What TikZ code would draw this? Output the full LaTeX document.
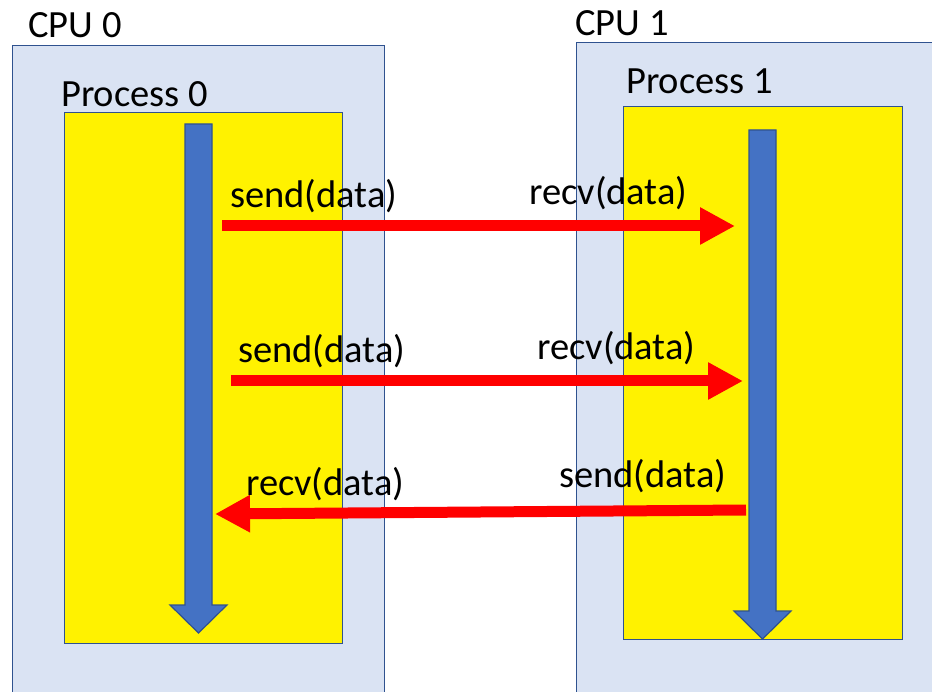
\documentclass[tikz,border=0pt]{standalone}
\usepackage{fontspec}
\setmainfont{Carlito}
\usepackage{xcolor}
\usepackage{tikz}
\usetikzlibrary{arrows.meta, positioning}

\definecolor{cpufill}{HTML}{DAE3F3}
\definecolor{edgeblue}{HTML}{2F528F}
\definecolor{lineblue}{HTML}{4472C4}

\begin{document}
\begin{tikzpicture}[x=1pt, y=-1pt,
        cpu_box/.style={rectangle, draw=edgeblue, fill=cpufill, line width=1.2pt,
        anchor=north west, inner sep=0pt},
        proc_box/.style={rectangle, draw=edgeblue, fill=yellow, line width=1.2pt,
        anchor=north west, inner sep=0pt},
        lbl/.style={anchor=base west, inner sep=0pt, font=\fontsize{38.5}{44}\selectfont},
        timeline/.style={draw=edgeblue, fill=lineblue, line width=1.2pt, line join=miter},
        msg/.style={-{Triangle[length=35pt, width=35pt]}, line width=11pt, red}
            ]

            \clip (0,0) rectangle (932,692);

            % CPUs
            \node[cpu_box, minimum width=372pt, minimum height=680pt] (cpu0) at (12,45) {};
            \node[cpu_box, minimum width=380pt, minimum height=680pt] (cpu1) at (576,42) {};

            % Processes
            \node[proc_box, minimum width=278pt, minimum height=531pt] (proc0) at (64,112) {};
            \node[proc_box, minimum width=279pt, minimum height=533pt] (proc1) at (623,106) {};

            % Time lines
            \draw[timeline] (185,124) -- (212,124) -- (212,605) -- (227,605)
                -- (198.5,633) -- (170,605) -- (185,605) -- cycle;
            \draw[timeline] (749,130) -- (776,130) -- (776,611) -- (791,611)
                -- (762.5,639) -- (734,611) -- (749,611) -- cycle;

            % Message ends
            \coordinate (out1) at (222,226);
            \coordinate (in1)  at (735,226);
            \coordinate (out2) at (231,381);
            \coordinate (in2)  at (743,381);
            \coordinate (out3) at (746,510);
            \coordinate (in3)  at (215,514);

            % Messages
            \draw[msg] (out1) -- (in1);
            \draw[msg] (out2) -- (in2);
            \draw[msg] (out3) -- (in3);

            % Labels
            \node[lbl] (cpu0lbl)  at (28,38)   {CPU 0};
            \node[lbl] (cpu1lbl)  at (575,36)  {CPU 1};
            \node[lbl] (proc0lbl) at (61,107)  {Process 0};
            \node[lbl] (proc1lbl) at (626,94)  {Process 1};
            \node[lbl] (send1)    at (230,208) {send(data)};
            \node[lbl] (recv1)    at (529,205) {recv(data)};
            \node[lbl] (send2)    at (238,363) {send(data)};
            \node[lbl] (recv2)    at (537,360) {recv(data)};
            \node[lbl] (recv3)    at (246,495) {recv(data)};
            \node[lbl] (send3)    at (559,487) {send(data)};

        \end{tikzpicture}
\end{document}
